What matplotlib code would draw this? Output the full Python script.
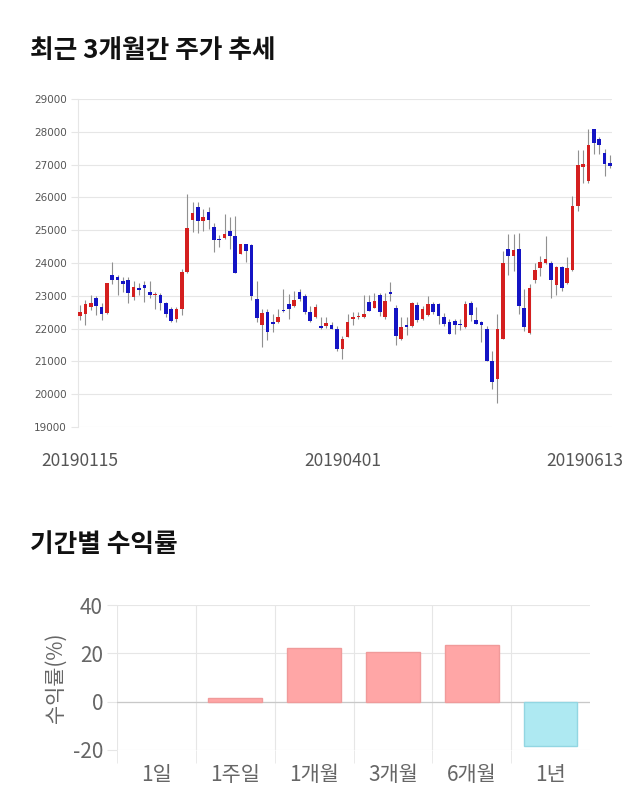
import matplotlib
matplotlib.use('Agg')
import matplotlib.pyplot as plt
import matplotlib.transforms as mtransforms
import numpy as np

plt.rcParams['font.family'] = ['Noto Sans CJK KR', 'DejaVu Sans']

# daily candles, 2019-01-15 .. 2019-06-13
opens = [22380, 22460, 22670, 22920, 22670, 22480, 23640, 23570, 23440, 23470,
         22970, 23230, 23330, 23130, 23010, 23030, 22770, 22600, 22300, 22600,
         23720, 25310, 25720, 25270, 25550, 25100, 24740, 24770, 24980, 24830,
         24270, 24570, 24560, 22900, 22110, 22510, 22210, 22200, 22570, 22750,
         22700, 23120, 22980, 22510, 22340, 22070, 22090, 22120, 22000, 21370,
         21750, 22290, 22340, 22340, 22820, 22640, 23020, 22360, 23120, 22640,
         21670, 22100, 22080, 22710, 22300, 22420, 22740, 22740, 22340, 22190,
         22240, 22130, 22050, 22790, 22260, 22200, 22000, 21000, 20460, 21690,
         24440, 24200, 24440, 22640, 21860, 23480, 23850, 23990, 23990, 23330,
         23890, 23380, 23790, 25740, 26940, 26490, 28100, 27780, 27350, 27040]
highs = [22720, 22870, 23030, 23000, 22770, 23400, 24030, 23640, 23560, 23560,
         23440, 23390, 23440, 23440, 23130, 23080, 22820, 22650, 22650, 23820,
         26100, 25860, 25860, 25660, 25700, 25230, 24850, 25490, 25410, 25430,
         24590, 24590, 24570, 23460, 22590, 22590, 22440, 22590, 23200, 23050,
         23150, 23200, 23050, 22690, 22740, 22340, 22340, 22210, 22080, 21770,
         22430, 22510, 22520, 23020, 23020, 23100, 23080, 23100, 23430, 22710,
         22340, 22340, 22800, 22800, 22700, 23000, 22800, 22770, 22490, 22290,
         22290, 22290, 22830, 22850, 22660, 22230, 22080, 21320, 22460, 24370,
         24890, 24880, 24900, 23200, 23350, 23990, 24220, 24810, 24060, 23910,
         23910, 24170, 26050, 27450, 27450, 28080, 28100, 27830, 27470, 27300]
lows = [22260, 22120, 22580, 22410, 22260, 22460, 23350, 23030, 23130, 22790,
        22870, 23030, 22820, 22920, 22590, 22560, 22360, 22200, 22200, 22400,
        23700, 24930, 24920, 24990, 25040, 24330, 24490, 24740, 24440, 23700,
        24260, 24030, 22880, 22190, 21430, 21660, 21900, 22170, 22510, 22290,
        22650, 22850, 22440, 22190, 22310, 21990, 22030, 21990, 21330, 21080,
        21730, 22100, 22300, 22310, 22540, 22620, 22390, 22300, 22850, 21490,
        21650, 21800, 22050, 22190, 22260, 22390, 22460, 22150, 22080, 21830,
        21830, 21960, 22030, 22240, 22150, 21580, 21000, 20150, 19720, 21670,
        23620, 23760, 22440, 21930, 21830, 23400, 23590, 23960, 22940, 23010,
        23150, 23350, 23760, 25590, 26450, 26450, 27320, 27320, 26660, 26900]
closes = [22510, 22740, 22770, 22700, 22460, 23380, 23470, 23470, 23370, 23080,
          23280, 23180, 23230, 23030, 23070, 22770, 22460, 22220, 22600, 23720,
          25070, 25510, 25270, 25410, 25320, 24700, 24700, 24880, 24830, 23710,
          24570, 24360, 23000, 22310, 22490, 21900, 22150, 22350, 22540, 22590,
          22870, 22900, 22510, 22240, 22670, 22030, 22160, 22000, 21380, 21690,
          22200, 22360, 22390, 22460, 22540, 22850, 22510, 22850, 23050, 21760,
          22050, 22060, 22770, 22260, 22590, 22740, 22520, 22390, 22150, 21850,
          22100, 22100, 22740, 22410, 22150, 22100, 21000, 20360, 22000, 23990,
          24200, 24400, 22690, 22060, 23250, 23790, 24030, 24110, 23480, 23890,
          23250, 23840, 25740, 26990, 27010, 27590, 27650, 27600, 27010, 26960]
date_labels = ['20190115', '20190401', '20190613']
date_idx = [0, 49, 99]

periods = ['1일', '1주일', '1개월', '3개월', '6개월', '1년']
returns = [0.0, 1.5, 22.2, 20.4, 23.6, -18.5]

fig = plt.figure(figsize=(6.4, 8.1), dpi=100)

fig.text(30 / 640, 1 - 50 / 810, '최근 3개월간 주가 추세', fontsize=18.5,
         fontweight='bold', va='center', ha='left', color='#111111')
fig.text(30 / 640, 1 - 544 / 810, '기간별 수익률', fontsize=18.5,
         fontweight='bold', va='center', ha='left', color='#111111')

# candlestick chart
ax = fig.add_axes([78 / 640, 1 - 427 / 810, 534 / 640, 328 / 810])
o = np.array(opens)
h = np.array(highs)
l = np.array(lows)
c = np.array(closes)
x = np.arange(len(o))
up = c >= o
cols = np.where(up, '#d41f1f', '#1414c4')
ax.vlines(x, l, h, color='#909090', linewidth=0.8, zorder=2)
body = np.maximum(np.abs(c - o), 25)
ax.bar(x, body, bottom=np.minimum(o, c), width=0.68, color=cols,
       linewidth=0, zorder=3)
ax.set_xlim(-0.4, len(o) - 0.6)
ax.set_ylim(19000, 29000)
ax.set_yticks(range(19000, 29001, 1000))
ax.set_yticklabels([str(v) for v in range(19000, 29001, 1000)],
                   fontsize=7.5, color='#555555', family='DejaVu Sans')
ax.grid(axis='y', color='#e6e6e6', linewidth=0.8)
ax.set_axisbelow(True)
for s in ['top', 'right', 'bottom']:
    ax.spines[s].set_visible(False)
ax.spines['left'].set_color('#e6e6e6')
ax.tick_params(axis='y', length=5, color='#e6e6e6', pad=3)
ax.set_xticks(date_idx)
ax.set_xticklabels(date_labels, fontsize=12.5, color='#555555')
ax.tick_params(axis='x', length=0, pad=18)
last = ax.get_xticklabels()[-1]
last.set_transform(last.get_transform() +
                   mtransforms.ScaledTranslation(-0.25, 0, fig.dpi_scale_trans))

# returns bar chart
bx = fig.add_axes([117 / 640, 1 - 750 / 810, 473 / 640, 145 / 810])
bcol = ['#ffa6a6' if v >= 0 else '#aee9f2' for v in returns]
ecol = ['#f09a9a' if v >= 0 else '#92d6e2' for v in returns]
lw = [1 if v != 0 else 0 for v in returns]
bx.bar(range(len(periods)), returns, width=0.68, color=bcol, edgecolor=ecol,
       linewidth=lw, zorder=3)
bx.set_xlim(-0.5, len(periods) - 0.5)
bx.set_ylim(-20, 40)
bx.set_yticks([-20, 0, 20, 40])
bx.set_yticklabels(['-20', '0', '20', '40'], fontsize=15, color='#666666')
bx.set_xticks(range(len(periods)))
bx.set_xticklabels(periods, fontsize=15, color='#666666')
bx.set_xticks(np.arange(len(periods)) - 0.5, minor=True)
bx.tick_params(axis='x', which='major', length=0, pad=10)
bx.tick_params(axis='x', which='minor', length=9, color='#e6e6e6')
bx.tick_params(axis='y', length=7, color='#e6e6e6', pad=3)
bx.grid(axis='y', color='#e6e6e6', linewidth=0.8)
bx.grid(axis='x', which='minor', color='#e6e6e6', linewidth=0.8)
bx.axhline(0, color='#c8c8c8', linewidth=0.9, zorder=2)
bx.set_axisbelow(True)
for s in bx.spines.values():
    s.set_visible(False)
bx.set_ylabel('수익률(%)', fontsize=15, color='#666666', labelpad=4)

fig.savefig('out.png', dpi=100)
